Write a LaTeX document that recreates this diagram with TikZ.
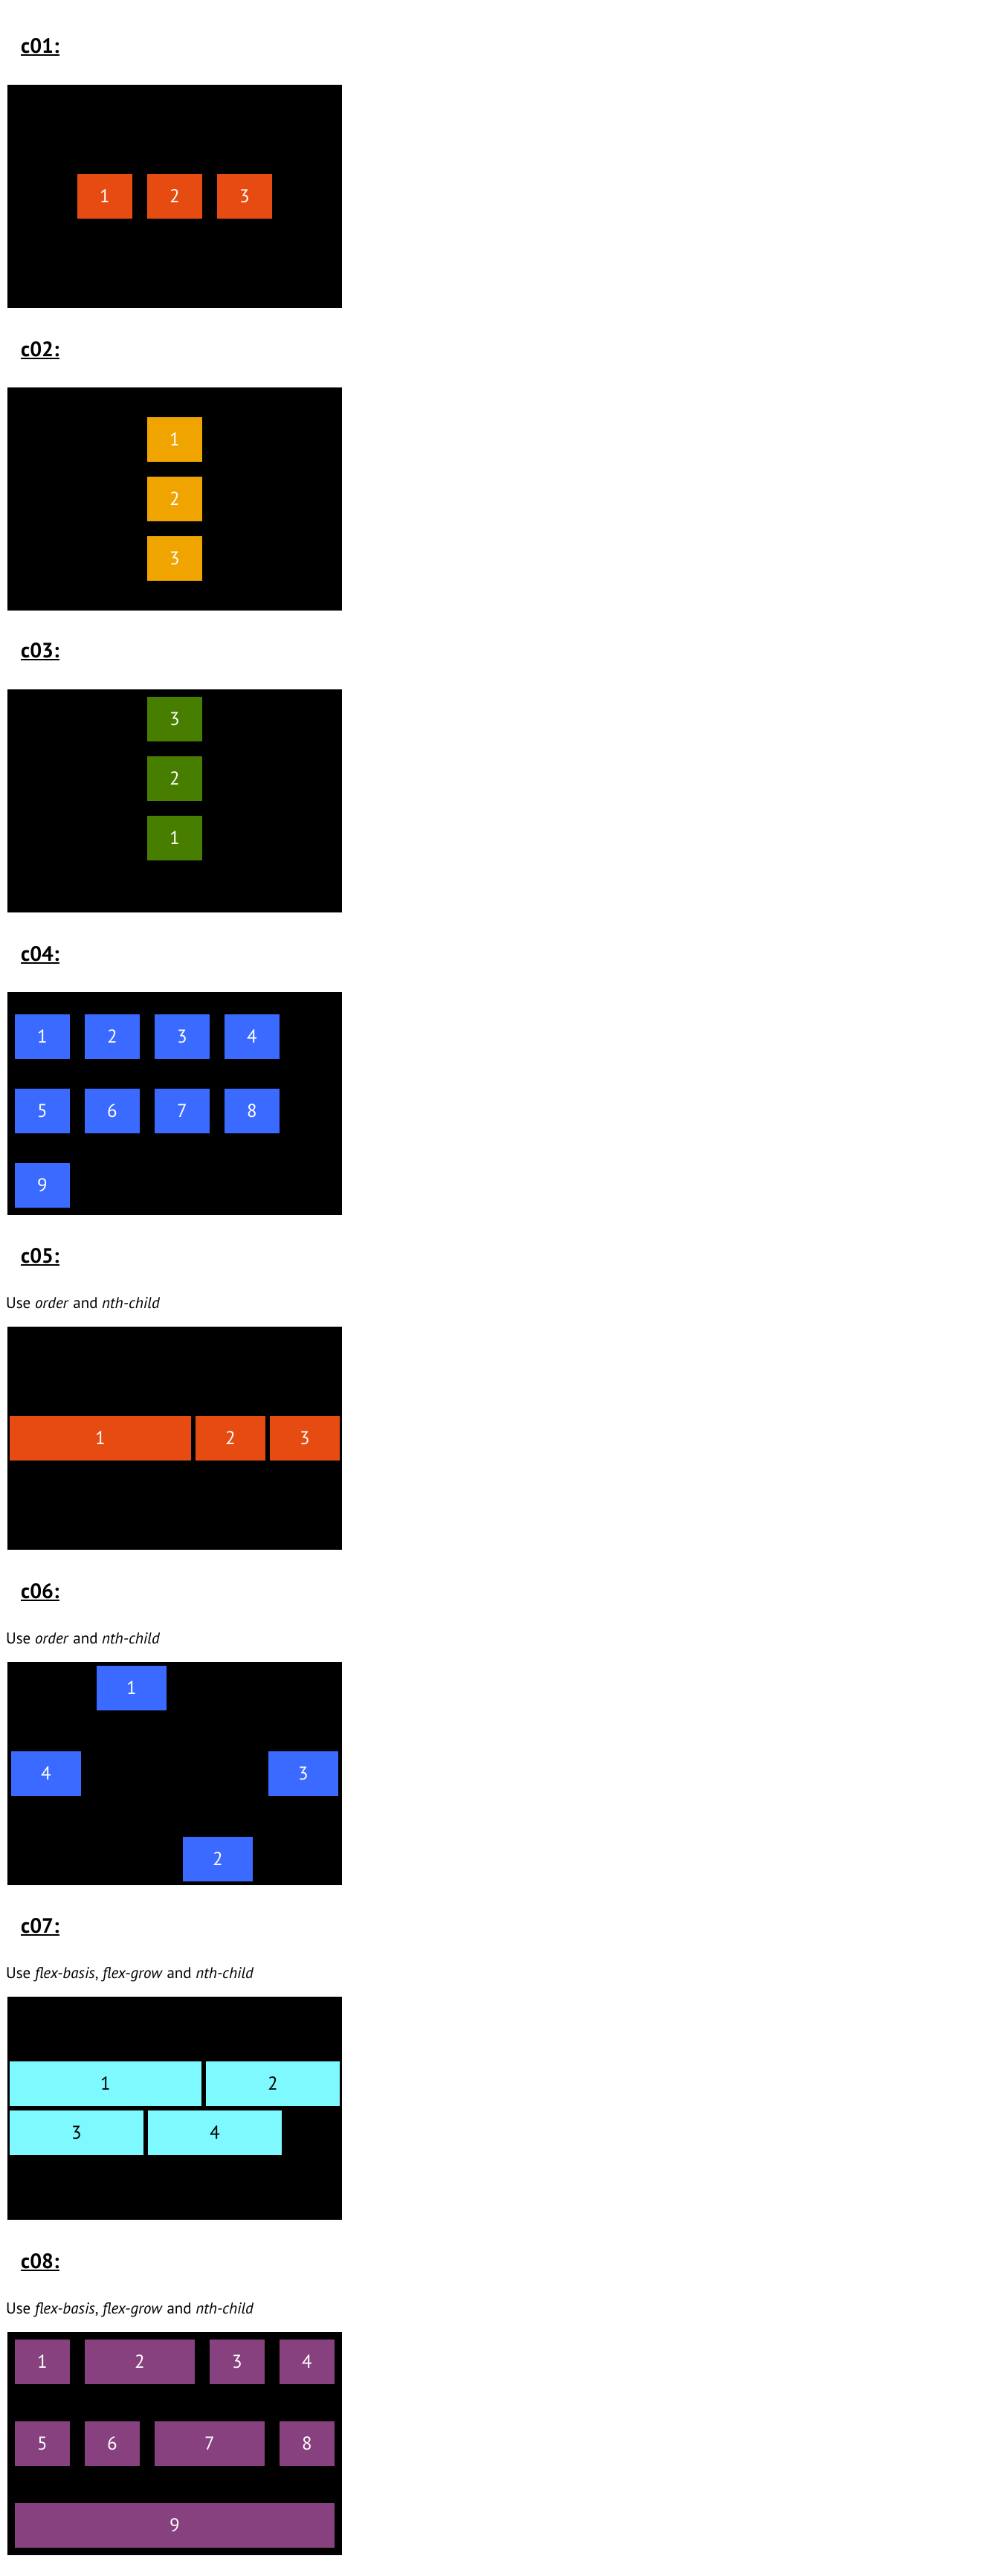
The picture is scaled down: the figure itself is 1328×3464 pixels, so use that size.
\documentclass[tikz,border=0pt]{standalone}
\usepackage{fontspec}
\setmainfont{PT Sans}
\definecolor{corange}{HTML}{E64C12}
\definecolor{camber}{HTML}{F0A400}
\definecolor{cgreen}{HTML}{487E00}
\definecolor{cblue}{HTML}{3A6AFF}
\definecolor{ccyan}{HTML}{7DF9FF}
\definecolor{cpurple}{HTML}{86417E}
\tikzset{
  itembox/.style={fill=#1, inner sep=0, text=white, font=\fontsize{25}{29}\selectfont},
  contbox/.style={fill=black, inner sep=0},
  heading/.style={anchor=base west, inner sep=0, font=\fontsize{28}{32}\selectfont\bfseries},
  note/.style={anchor=base west, inner sep=0, font=\fontsize{21}{25}\selectfont},
  uline/.style={line width=2pt}
}
\newcommand\itm[7]{\node[itembox=#7, minimum width=#4pt, minimum height=#5pt] (#1) at ({#2+#4/2},{#3+#5/2}) {#6};}
\newcommand\cont[2]{\node[contbox, minimum width=450pt, minimum height=300pt] (#1) at (235,{#2+150}) {};}
\newcommand\head[3]{\node[heading] (#1) at (28,#2) {#3};
  \draw[uline] ([yshift=-3pt]#1.base west) -- ([yshift=-3pt]#1.base east);}
\begin{document}
\begin{tikzpicture}[x=1pt,y=-1pt]
\fill[white] (0,0) rectangle (1328,3464);
\useasboundingbox (0,0) rectangle (1328,3464);
% c01
\head{h1}{71}{c01:}
\cont{k1}{114}
\itm{a1}{104}{234}{74}{60}{1}{corange}
\itm{a2}{198}{234}{74}{60}{2}{corange}
\itm{a3}{292}{234}{74}{60}{3}{corange}
% c02
\head{h2}{479}{c02:}
\cont{k2}{521}
\itm{b1}{198}{561}{74}{60}{1}{camber}
\itm{b2}{198}{641}{74}{60}{2}{camber}
\itm{b3}{198}{721}{74}{60}{3}{camber}
% c03
\head{h3}{884}{c03:}
\cont{k3}{927}
\itm{c3}{198}{937}{74}{60}{3}{cgreen}
\itm{c2}{198}{1017}{74}{60}{2}{cgreen}
\itm{c1}{198}{1097}{74}{60}{1}{cgreen}
% c04
\head{h4}{1292}{c04:}
\cont{k4}{1334}
\itm{d1}{20}{1364}{74}{60}{1}{cblue}
\itm{d2}{114}{1364}{74}{60}{2}{cblue}
\itm{d3}{208}{1364}{74}{60}{3}{cblue}
\itm{d4}{302}{1364}{74}{60}{4}{cblue}
\itm{d5}{20}{1464}{74}{60}{5}{cblue}
\itm{d6}{114}{1464}{74}{60}{6}{cblue}
\itm{d7}{208}{1464}{74}{60}{7}{cblue}
\itm{d8}{302}{1464}{74}{60}{8}{cblue}
\itm{d9}{20}{1564}{74}{60}{9}{cblue}
% c05
\head{h5}{1698}{c05:}
\node[note] (t5) at (8,1759) {Use \textit{order} and \textit{nth-child}};
\cont{k5}{1784}
\itm{e1}{13}{1904}{244}{60}{1}{corange}
\itm{e2}{263}{1904}{94}{60}{2}{corange}
\itm{e3}{363}{1904}{94}{60}{3}{corange}
% c06
\head{h6}{2149}{c06:}
\node[note] (t6) at (8,2210) {Use \textit{order} and \textit{nth-child}};
\cont{k6}{2235}
\itm{f1}{130}{2240}{94}{60}{1}{cblue}
\itm{f4}{15}{2355}{94}{60}{4}{cblue}
\itm{f3}{361}{2355}{94}{60}{3}{cblue}
\itm{f2}{246}{2470}{94}{60}{2}{cblue}
% c07
\head{h7}{2599}{c07:}
\node[note] (t7) at (8,2660) {Use \textit{flex-basis}, \textit{flex-grow} and \textit{nth-child}};
\cont{k7}{2685}
\itm{g1}{13}{2772}{258}{60}{\textcolor{black}{1}}{ccyan}
\itm{g2}{277}{2772}{180}{60}{\textcolor{black}{2}}{ccyan}
\itm{g3}{13}{2838}{180}{60}{\textcolor{black}{3}}{ccyan}
\itm{g4}{199}{2838}{180}{60}{\textcolor{black}{4}}{ccyan}
% c08
\head{h8}{3050}{c08:}
\node[note] (t8) at (8,3111) {Use \textit{flex-basis}, \textit{flex-grow} and \textit{nth-child}};
\cont{k8}{3136}
\itm{m1}{20}{3146}{74}{60}{1}{cpurple}
\itm{m2}{114}{3146}{148}{60}{2}{cpurple}
\itm{m3}{282}{3146}{74}{60}{3}{cpurple}
\itm{m4}{376}{3146}{74}{60}{4}{cpurple}
\itm{m5}{20}{3256}{74}{60}{5}{cpurple}
\itm{m6}{114}{3256}{74}{60}{6}{cpurple}
\itm{m7}{208}{3256}{148}{60}{7}{cpurple}
\itm{m8}{376}{3256}{74}{60}{8}{cpurple}
\itm{m9}{20}{3366}{430}{60}{9}{cpurple}
\end{tikzpicture}
\end{document}
